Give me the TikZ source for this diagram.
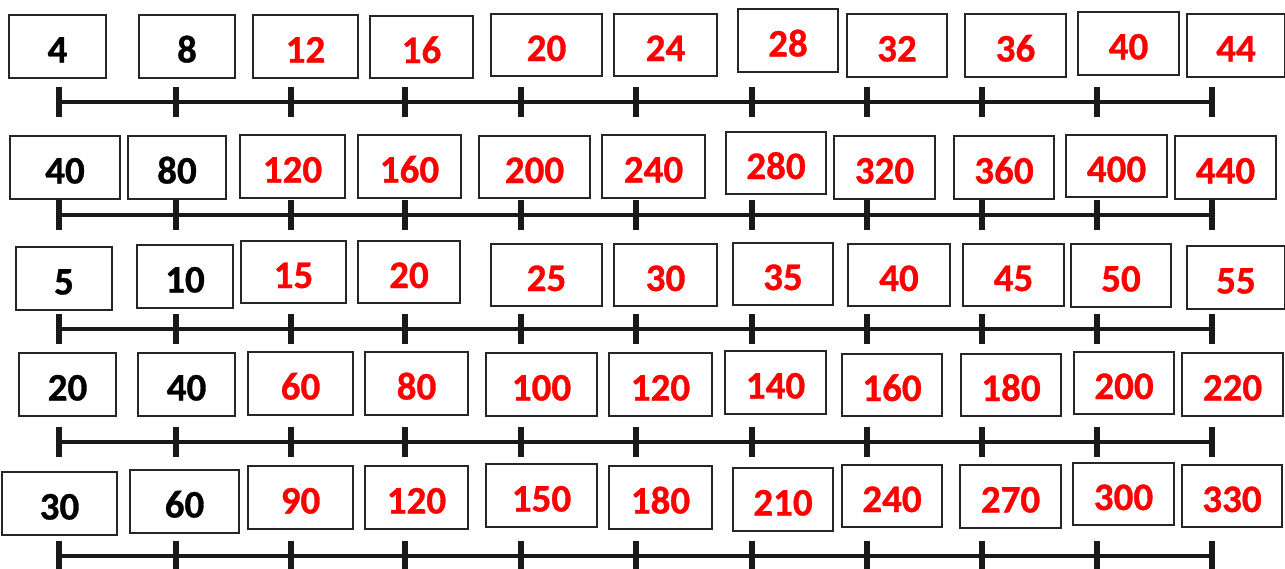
\documentclass[tikz,border=0pt]{standalone}
\usepackage{fontspec}
\setmainfont{Carlito}[BoldFeatures={FakeBold=0.8}]
\usetikzlibrary{positioning}
\tikzset{
  numbox/.style={draw=black!85, line width=0.7pt, fill=white, inner sep=0pt,
                 font=\fontsize{19.5}{20}\selectfont\bfseries, text height=16pt, text depth=0pt},
  shown/.style={numbox, text=black},
  answer/.style={numbox, text=red},
  numline/.style={line width=2pt, black!90},
  tickmark/.style={line width=3.2pt, black!90}
}

\begin{document}
\begin{tikzpicture}[x=0.5pt, y=-0.5pt]
  \useasboundingbox (0,0) rectangle (1285,568);

  % number lines
  \foreach \r/\ly in {1/102,2/215,3/329,4/442,5/556} {
    \foreach \tx [count=\i] in {59,176,291,405,521,636,752,867,982,1097,1212}
      \coordinate (t\r-\i) at (\tx,\ly);
    \draw[numline] (t\r-1) -- (t\r-11);
    \foreach \i in {1,...,11}
      \draw[tickmark] ([yshift=7.5pt]t\r-\i) -- ([yshift=-7.5pt]t\r-\i);
  }

  % row 1
  \foreach \n/\s/\xa/\ya/\xb/\yb [count=\i] in {4/shown/9/15/106/78, 8/shown/139/15/235/78,
      12/answer/253/15/358/78, 16/answer/370/16/473/78, 20/answer/491/14/602/76,
      24/answer/614/14/717/76, 28/answer/738/9/838/72, 32/answer/847/14/947/77,
      36/answer/965/14/1066/77, 40/answer/1078/12/1179/75, 44/answer/1187/14/1285/77}
    \node[\s, minimum width={(\xb-\xa)*0.5pt}, minimum height={(\yb-\ya)*0.5pt}]
      (b1-\i) at ({(\xa+\xb)/2},{(\ya+\yb)/2}) {\n};

  % row 2
  \foreach \n/\s/\xa/\ya/\xb/\yb [count=\i] in {40/shown/10/136/120/199, 80/shown/128/136/226/199,
      120/answer/240/135/345/198, 160/answer/358/135/461/198, 200/answer/479/136/590/198,
      240/answer/602/135/705/198, 280/answer/726/132/826/194, 320/answer/834/136/935/199,
      360/answer/954/136/1054/199, 400/answer/1066/135/1167/197, 440/answer/1175/136/1276/199}
    \node[\s, minimum width={(\xb-\xa)*0.5pt}, minimum height={(\yb-\ya)*0.5pt}]
      (b2-\i) at ({(\xa+\xb)/2},{(\ya+\yb)/2}) {\n};

  % row 3
  \foreach \n/\s/\xa/\ya/\xb/\yb [count=\i] in {5/shown/16/247/112/310, 10/shown/137/245/233/308,
      15/answer/241/241/346/303, 20/answer/358/241/460/303, 25/answer/491/244/602/306,
      30/answer/614/244/717/306, 35/answer/733/243/833/305, 40/answer/848/244/950/306,
      45/answer/963/244/1064/306, 50/answer/1071/244/1171/307, 55/answer/1187/246/1285/309}
    \node[\s, minimum width={(\xb-\xa)*0.5pt}, minimum height={(\yb-\ya)*0.5pt}]
      (b3-\i) at ({(\xa+\xb)/2},{(\ya+\yb)/2}) {\n};

  % row 4
  \foreach \n/\s/\xa/\ya/\xb/\yb [count=\i] in {20/shown/19/353/116/416, 40/shown/138/353/235/416,
      60/answer/248/352/353/415, 80/answer/365/352/468/415, 100/answer/486/353/597/416,
      120/answer/609/353/712/416, 140/answer/725/351/826/414, 160/answer/842/354/942/416,
      180/answer/961/354/1061/416, 200/answer/1074/352/1174/414, 220/answer/1182/353/1283/416}
    \node[\s, minimum width={(\xb-\xa)*0.5pt}, minimum height={(\yb-\ya)*0.5pt}]
      (b4-\i) at ({(\xa+\xb)/2},{(\ya+\yb)/2}) {\n};

  % row 5
  \foreach \n/\s/\xa/\ya/\xb/\yb [count=\i] in {30/shown/2/472/117/535, 60/shown/130/470/239/533,
      90/answer/248/466/353/529, 120/answer/365/466/468/529, 150/answer/486/464/597/527,
      180/answer/609/466/712/529, 210/answer/733/468/833/531, 240/answer/842/465/942/527,
      270/answer/960/465/1061/528, 300/answer/1073/463/1174/525, 330/answer/1182/465/1282/527}
    \node[\s, minimum width={(\xb-\xa)*0.5pt}, minimum height={(\yb-\ya)*0.5pt}]
      (b5-\i) at ({(\xa+\xb)/2},{(\ya+\yb)/2}) {\n};
\end{tikzpicture}
\end{document}
